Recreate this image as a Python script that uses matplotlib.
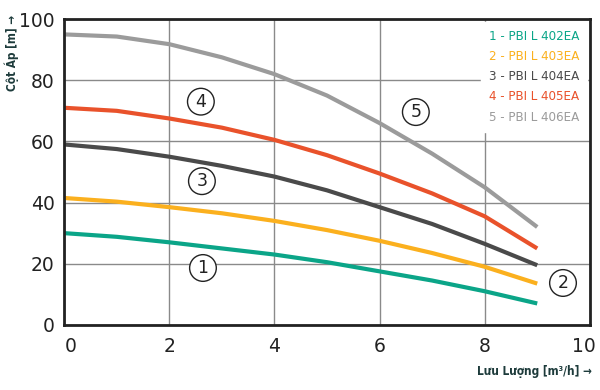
import numpy as np
import matplotlib
matplotlib.use('Agg')
import matplotlib.pyplot as plt
from matplotlib.transforms import ScaledTranslation

flow = [0, 1, 2, 3, 4, 5, 6, 7, 8, 9]
head_402 = [30, 28.8, 27, 25, 23, 20.5, 17.5, 14.5, 11, 7]
head_403 = [41.5, 40.3, 38.5, 36.5, 34, 31, 27.5, 23.5, 19, 13.5]
head_404 = [59, 57.5, 55, 52, 48.5, 44, 38.5, 33, 26.5, 19.5]
head_405 = [71, 70, 67.5, 64.5, 60.5, 55.5, 49.5, 43, 35.5, 25]
head_406 = [95, 94.3, 91.8, 87.5, 82, 75, 66, 56, 45, 32]

names = ['1 - PBI L 402EA', '2 - PBI L 403EA', '3 - PBI L 404EA',
         '4 - PBI L 405EA', '5 - PBI L 406EA']
colors = ['#0ba588', '#fbb01e', '#4a4a4a', '#e9522b', '#9b9b9b']

# circled labels: (text, x, y)
marks = [('1', 2.64, 18.6), ('2', 9.49, 13.7), ('3', 2.62, 47),
         ('4', 2.6, 73), ('5', 6.69, 69.6)]

fig = plt.figure(figsize=(6, 3.9), dpi=100)
ax = fig.add_axes([0.107, 0.167, 0.876, 0.784])

for h, c, n in zip([head_402, head_403, head_404, head_405, head_406], colors, names):
    ax.plot(flow, h, color=c, lw=3, label=n, solid_capstyle='butt')

for t, x, y in marks:
    ax.text(x, y, t, ha='center', va='center', fontsize=12.5, color='#222222',
            bbox=dict(boxstyle='circle,pad=0.25', fc='white', ec='#222222', lw=1))

ax.set_xlim(0, 10)
ax.set_ylim(0, 100)
ax.set_xticks([0, 2, 4, 6, 8, 10])
ax.set_yticks([0, 20, 40, 60, 80, 100])
ax.grid(True, color='#8a8a8a', lw=1)
ax.set_axisbelow(True)
ax.tick_params(axis='x', length=0, labelsize=13.5, labelcolor='#222222', pad=9)
ax.tick_params(axis='y', length=0, labelsize=13.5, labelcolor='#222222', pad=7)
for s in ax.spines.values():
    s.set_linewidth(2)
    s.set_color('#222222')

# nudge first / last x tick labels inward like the original
xl = ax.get_xticklabels()
xl[0].set_transform(xl[0].get_transform() + ScaledTranslation(6 / 100, 0, fig.dpi_scale_trans))
xl[-1].set_transform(xl[-1].get_transform() + ScaledTranslation(-6 / 100, 0, fig.dpi_scale_trans))

ax.set_xlabel('Lưu Lượng [m³/h] →', loc='right', fontsize=8.5, color='#1d3b3b',
              fontstretch='condensed', fontweight='semibold')
ax.xaxis.set_label_coords(1.004, -0.132)
ax.set_ylabel('Cột Áp [m] →', loc='top', fontsize=8.5, color='#1d3b3b',
              fontstretch='condensed', fontweight='semibold')
ax.yaxis.set_label_coords(-0.086, 1.015)

leg = ax.legend(loc='upper right', handlelength=0, handletextpad=0,
                labelcolor='linecolor', frameon=True, framealpha=1,
                edgecolor='white', fancybox=False, borderaxespad=0.2,
                borderpad=0.6,
                prop=dict(size=9.5, stretch='condensed'),
                labelspacing=0.55)
for h in leg.legend_handles:
    h.set_visible(False)

fig.savefig('out.png')
